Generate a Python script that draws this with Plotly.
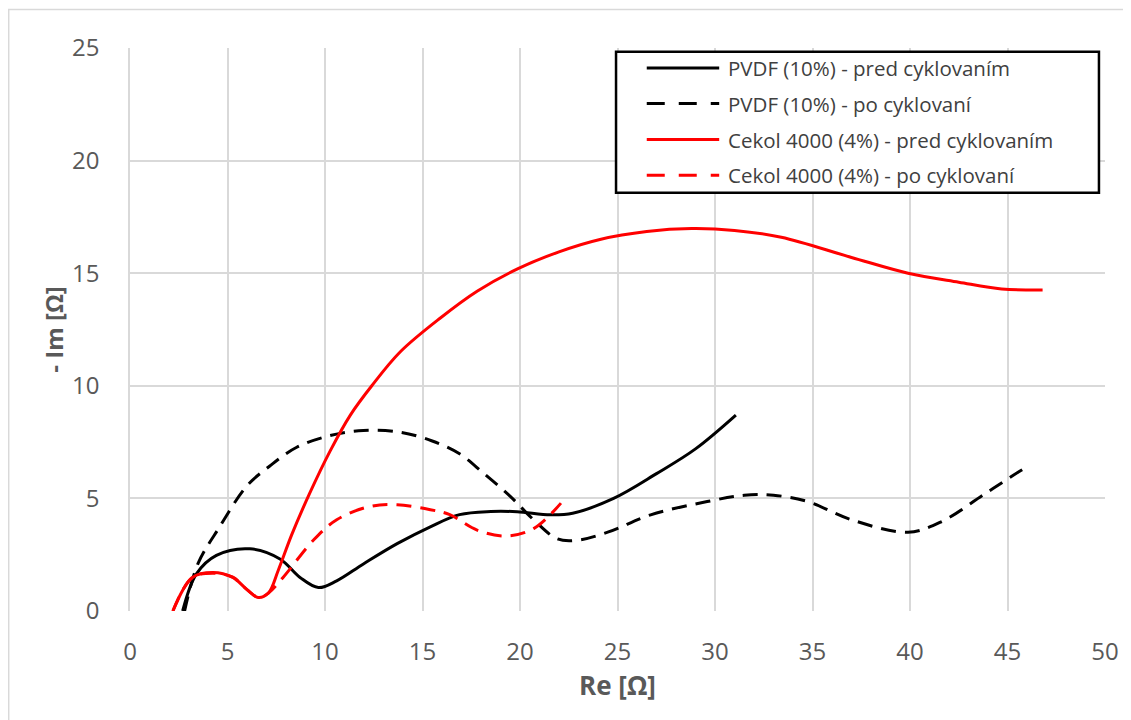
import plotly.graph_objects as go

# PVDF (10%) - pred cyklovaním
pvdf_pred_re = [2.7, 3.4, 4.43, 6.15, 7.69, 8.72, 9.66, 10.6, 11.97, 13.7, 15.4, 16.9, 18.5, 19.85, 21.56, 22.7, 24.8, 27.0, 29.0, 31.07]
pvdf_pred_im = [0.0, 1.64, 2.47, 2.76, 2.31, 1.49, 1.04, 1.34, 2.09, 2.99, 3.74, 4.28, 4.42, 4.41, 4.27, 4.34, 5.0, 6.1, 7.2, 8.7]

# PVDF (10%) - po cyklovaní
pvdf_po_re = [2.8, 3.48, 4.6, 5.98, 7.17, 8.55, 10.26, 11.97, 13.85, 15.5, 16.9, 18.1, 19.5, 20.7, 21.9, 22.9, 24.5, 26.7, 29.6, 31.5, 33.0, 34.75, 37.0, 39.9, 41.6, 43.8, 45.5, 46.0]
pvdf_po_im = [0.0, 2.09, 3.74, 5.54, 6.44, 7.27, 7.79, 8.02, 7.94, 7.55, 6.98, 6.14, 5.09, 4.05, 3.21, 3.14, 3.5, 4.27, 4.86, 5.14, 5.14, 4.86, 4.05, 3.5, 3.96, 5.18, 6.14, 6.4]

# Cekol 4000 (4%) - pred cyklovaním
cekol_pred_re = [2.2, 3.2, 4.25, 5.27, 6.0, 6.57, 7.1, 7.6, 8.3, 9.2, 10.26, 11.3, 12.4, 13.85, 15.9, 17.8, 19.9, 22.0, 24.1, 26.5, 28.8, 31.0, 33.4, 37.0, 39.9, 42.5, 44.7, 46.8]
cekol_pred_im = [0.0, 1.49, 1.71, 1.49, 0.95, 0.6, 0.8, 1.8, 3.4, 5.2, 7.1, 8.7, 10.0, 11.5, 13.0, 14.2, 15.2, 15.95, 16.5, 16.85, 16.98, 16.9, 16.6, 15.7, 15.0, 14.6, 14.3, 14.25]

# Cekol 4000 (4%) - po cyklovaní
cekol_po_re = [2.2, 3.2, 4.25, 5.27, 6.0, 6.6, 7.1, 7.85, 9.4, 10.6, 12.3, 13.7, 15.4, 16.4, 17.8, 19.3, 20.7, 22.1]
cekol_po_im = [0.0, 1.49, 1.68, 1.5, 0.95, 0.6, 0.8, 1.49, 3.14, 4.05, 4.64, 4.72, 4.5, 4.28, 3.59, 3.33, 3.66, 4.79]

names = ["PVDF (10%) - pred cyklovaním", "PVDF (10%) - po cyklovaní",
         "Cekol 4000 (4%) - pred cyklovaním", "Cekol 4000 (4%) - po cyklovaní"]
colors = ["black", "black", "#ff0000", "#ff0000"]
dashes = ["solid", "15px,9px", "solid", "15px,9px"]
legend_dashes = ["solid", "18px,14px", "solid", "18px,14px"]

fig = go.Figure()
series = [(pvdf_pred_re, pvdf_pred_im), (pvdf_po_re, pvdf_po_im),
          (cekol_pred_re, cekol_pred_im), (cekol_po_re, cekol_po_im)]
for (xs, ys), nm, col, dash in zip(series, names, colors, dashes):
    fig.add_trace(go.Scatter(x=xs, y=ys, mode="lines", name=nm, showlegend=False,
                             line=dict(color=col, width=3, dash=dash, shape="spline", smoothing=1.0)))

font_family = "Open Sans, Liberation Sans, sans-serif"
fig.update_layout(
    width=1123, height=712,
    margin=dict(l=122, r=20, t=40, b=109),
    paper_bgcolor="white", plot_bgcolor="white",
    font=dict(family=font_family, color="#595959"),
    showlegend=False,
    xaxis=dict(range=[0, 50], dtick=5, showgrid=True, gridcolor="#d9d9d9", gridwidth=1.5,
               zeroline=False, showline=False, ticks="", tickfont=dict(size=24, color="#595959"),
               ticklabelstandoff=24,
               title=dict(text="<b>Re [Ω]</b>", font=dict(size=26, color="#595959"), standoff=6)),
    yaxis=dict(range=[0, 25], dtick=5, showgrid=True, gridcolor="#d9d9d9", gridwidth=1.5,
               zeroline=False, showline=True, linecolor="#d9d9d9", linewidth=1.5, ticks="",
               tickfont=dict(size=24, color="#595959"), ticklabelstandoff=24,
               title=dict(text="<b>- Im [Ω]</b>", font=dict(size=24, color="#595959"), standoff=2)),
)

# Legend box drawn manually (Excel-style)
fig.add_shape(type="rect", xref="paper", yref="paper", x0=0.4985, x1=0.9938, y0=0.7429, y1=0.9933,
              line=dict(color="black", width=2.5), fillcolor="white", layer="above")
row_y = [0.9645, 0.9014, 0.8373, 0.7742]
for nm, col, ld, ry in zip(names, colors, legend_dashes, row_y):
    fig.add_shape(type="line", xref="paper", yref="paper", x0=0.530, x1=0.6043, y0=ry, y1=ry,
                  line=dict(color=col, width=3, dash=ld), layer="above")
    fig.add_annotation(xref="paper", yref="paper", x=0.6115, y=ry, text=nm, showarrow=False,
                       xanchor="left", yanchor="middle",
                       font=dict(size=20.5, color="#404040", family=font_family))

# outer chart frame
fig.add_shape(type="rect", xref="paper", yref="paper", x0=-0.1244, x1=1.05, y0=-0.25, y1=1.0685,
              line=dict(color="#d9d9d9", width=1.5), layer="below")
fig.write_html("out.html")
